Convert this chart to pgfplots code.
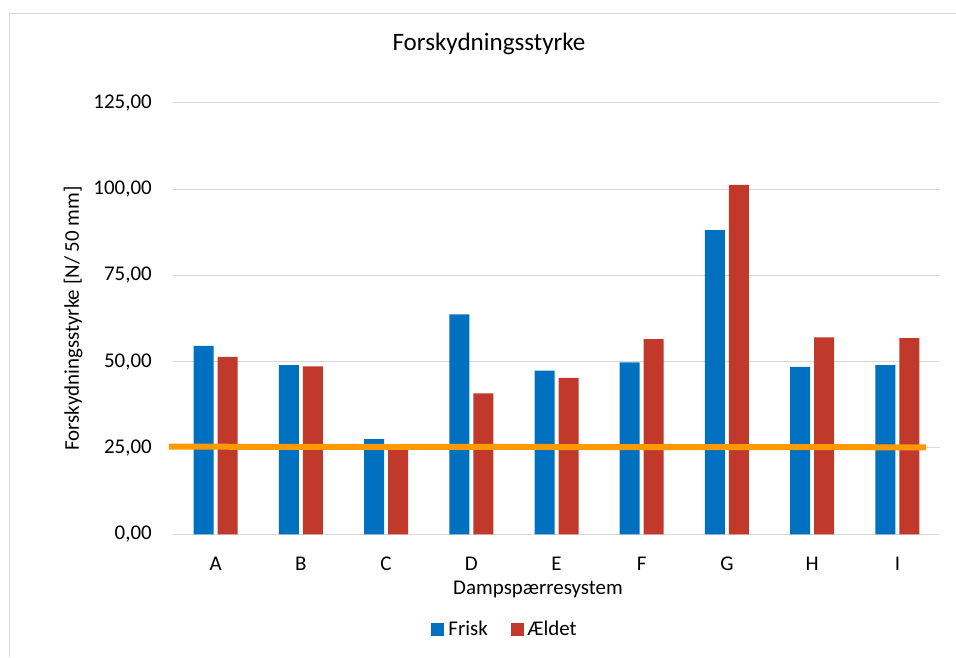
\documentclass[border=0pt]{standalone}
\usepackage{pgfplots}
\pgfplotsset{compat=1.18}
\usepackage{fontspec}
\setmainfont{Carlito}
\definecolor{cblue}{HTML}{0070C0}
\definecolor{cred}{HTML}{C0392B}
\definecolor{corange}{HTML}{FF9900}
\definecolor{cgrid}{HTML}{D9D9D9}
\begin{document}
\begin{tikzpicture}
\path[use as bounding box] (0,0) rectangle (717pt,492.75pt);
\draw[cgrid, line width=0.75pt] (6.75pt,0pt) -- (6.75pt,482.25pt) -- (717pt,482.25pt);
\begin{axis}[
  at={(129.75pt,92.025pt)}, anchor=south west,
  scale only axis, width=575.25pt, height=323.7pt,
  xmin=-0.5, xmax=8.5, ymin=0, ymax=125,
  clip=false,
  axis line style={draw=none},
  major tick length=0pt,
  xtick={0,...,8},
  xticklabels={A,B,C,D,E,F,G,H,I},
  ytick={0,25,50,75,100,125},
  yticklabels={{0,00},{25,00},{50,00},{75,00},{100,00},{125,00}},
  ymajorgrids, grid style={cgrid, line width=0.75pt},
  tick label style={font=\fontsize{15.7pt}{18pt}\selectfont, text=black},
  yticklabel style={anchor=east, inner sep=0pt, xshift=-15.75pt},
  xticklabel style={anchor=north, inner sep=0pt, yshift=-16.8pt},
  title={Forskydningsstyrke},
  title style={font=\fontsize{18.8pt}{22pt}\selectfont, at={(axis description cs:0.412,1)}, anchor=base, yshift=33.3pt, inner sep=0pt},
  xlabel={Dampspærresystem},
  xlabel style={font=\fontsize{15.7pt}{18pt}\selectfont, at={(axis description cs:0.4759,0)}, anchor=base, yshift=-45.5pt, inner sep=0pt},
  ylabel={Forskydningsstyrke [N/ 50 mm]},
  ylabel style={font=\fontsize{15.7pt}{18pt}\selectfont, at={(axis description cs:0,0.5)}, anchor=center, yshift=75pt, inner sep=0pt},
  legend columns=2,
  legend style={at={(axis description cs:0.4316,0)}, anchor=center, yshift=-71.4pt, draw=none, fill=none,
    font=\fontsize{15.7pt}{18pt}\selectfont, inner sep=0pt,
    nodes={inner sep=0pt},
    /tikz/every odd column/.append style={column sep=3pt},
    /tikz/every even column/.append style={column sep=17pt}},
  legend image code/.code={\fill[#1] (0pt,-4.875pt) rectangle (9.75pt,4.875pt);},
]
\addplot[ybar, bar width=15pt, bar shift=-9pt, fill=cblue, draw=none] coordinates {
  (0,54.6) (1,49.0) (2,27.6) (3,63.7) (4,47.4) (5,49.8) (6,88.1) (7,48.5) (8,49.0)};
\addlegendentry{Frisk}
\addplot[ybar, bar width=15pt, bar shift=9pt, fill=cred, draw=none] coordinates {
  (0,51.4) (1,48.6) (2,24.7) (3,40.8) (4,45.3) (5,56.5) (6,101.2) (7,57.0) (8,56.8)};
\addlegendentry{Ældet}
\addplot[corange, line width=4.5pt, no marks, forget plot] coordinates {(-0.547,25.37) (8.336,25.2)};
\end{axis}
\end{tikzpicture}
\end{document}
